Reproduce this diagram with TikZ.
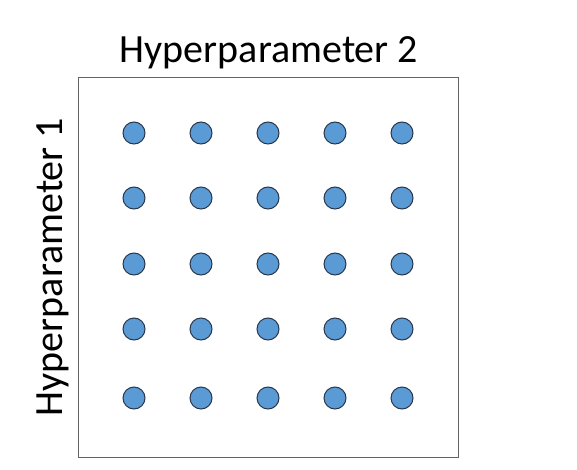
\documentclass[tikz,border=0pt]{standalone}
\usepackage{fontspec}
\setmainfont{Carlito}
\definecolor{dotblue}{RGB}{91,155,213}
\definecolor{dotedge}{RGB}{40,55,75}
\definecolor{framegray}{RGB}{100,100,100}

\begin{document}
\begin{tikzpicture}
	[x=1pt,y=-1pt]
	\tikzstyle{point}=[circle, draw=dotedge, fill=dotblue, line width=1pt, minimum size=22pt, inner sep=0pt];
	\tikzstyle{axislabel}=[font=\fontsize{40}{40}\selectfont, inner sep=0pt];

	\useasboundingbox (0,0) rectangle (577,470);

	\node[draw=framegray, line width=1.3pt, minimum width=380pt, minimum height=380pt, inner sep=0pt] (grid) at (268.5,267.5) {};

	\node[axislabel, anchor=base] (hp2) at (269,63) {Hyperparameter 2};
	\node[axislabel, anchor=base, rotate=90] (hp1) at (62,267) {Hyperparameter 1};

	\foreach \i/\y in {1/133,2/198,3/264,4/329,5/398}
		\foreach \j/\x in {1/134,2/201,3/268,4/335,5/402}
			\node[point] (dot-\i-\j) at (\x,\y) {};

\end{tikzpicture}
\end{document}
